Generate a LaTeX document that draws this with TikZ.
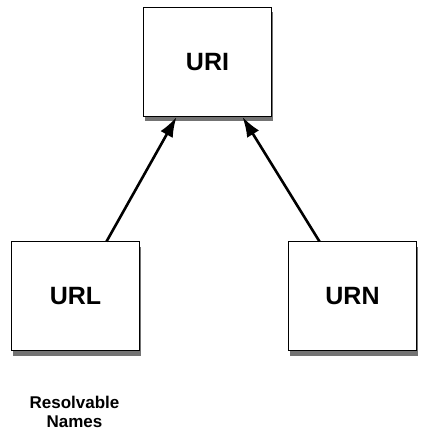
\documentclass[tikz,border=0pt]{standalone}
\usepackage{fontspec}
\setmainfont{Liberation Sans}
\usetikzlibrary{arrows.meta,shadows}

\begin{document}
\begin{tikzpicture}[
    x=1pt, y=1pt,
    namebox/.style={draw, line width=1pt, fill=white, minimum width=128pt, minimum height=109pt,
        font=\fontsize{25}{30}\selectfont\bfseries,
        copy shadow={shadow xshift=1.5pt, shadow yshift=-5pt, draw=none, fill=black!55}},
    note/.style={font=\fontsize{17}{19}\selectfont\bfseries, align=center},
    link/.style={line width=2.6pt, -{Latex[length=20pt,width=14pt]}},
]
\useasboundingbox (0,0) rectangle (427,434);

% boxes
\node[namebox] (uri) at (207.5,372) {URI};
\node[namebox] (url) at (75.5,137.5) {URL};
\node[namebox] (urn) at (352.5,137.5) {URN};

% caption
\node[note] (resolv) at (74.5,22) {Resolvable\\Names};

% links
\draw[link] ([xshift=31pt]url.north) -- ([xshift=-31pt]uri.south);
\draw[link] ([xshift=-33pt]urn.north) -- ([xshift=35pt]uri.south);

\end{tikzpicture}
\end{document}
